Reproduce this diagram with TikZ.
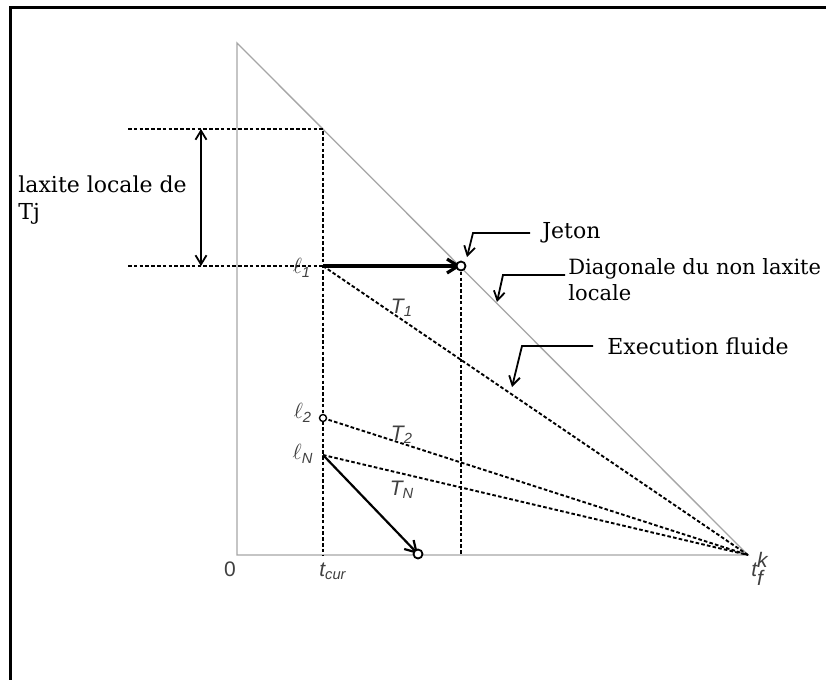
\documentclass[tikz,border=0pt]{standalone}
\usepackage{fontspec}
\setmainfont{DejaVu Serif}
\setsansfont{Liberation Sans}
\usetikzlibrary{arrows.meta}
\begin{document}
\begin{tikzpicture}[x=0.5pt,y=-0.5pt,
  axisline/.style={draw=gray!70, line width=0.65pt},
  dsh/.style={draw=black, line width=0.95pt, dash pattern=on 1.8pt off 1.1pt},
  callout/.style={draw=black, line width=0.9pt, -{Straight Barb[length=4.5pt,width=5.5pt]}},
  lbl/.style={font=\fontsize{11}{12.5}\selectfont, inner sep=0pt, text=black},
  sym/.style={font=\sffamily\itshape\fontsize{10.5}{12}\selectfont, inner sep=0pt, text=black!75},
  dotc/.style={circle, draw=black, line width=0.9pt, fill=white, minimum size=4.5pt, inner sep=0pt}
]
\useasboundingbox (0,0) rectangle (826,680);
\fill[white] (0,0) rectangle (826,680);
\draw[line width=1.5pt] (10,680) -- (10,7) -- (826,7);

% key points
\coordinate (Top) at (237,43);
\coordinate (O) at (237,555);
\coordinate (F) at (748,555);
\coordinate (A) at (323,129);
\coordinate (L1) at (323,266);
\coordinate (C) at (323,555);
\coordinate (J) at (461,266);
\coordinate (Jb) at (461,555);
\coordinate (L2) at (323,418);
\coordinate (LN) at (323,455);
\coordinate (E) at (418,554);
\coordinate (H1) at (128,129);
\coordinate (H2) at (128,266);
\coordinate (V1) at (201,129);
\coordinate (V2) at (201,266);

% axes and diagonal
\draw[axisline] (Top) -- (O) -- (F) -- cycle;

% dashed lines
\draw[dsh] (H1) -- (A) -- (C);
\draw[dsh] (H2) -- (L1);
\draw[dsh] (J) -- (Jb);
\draw[dsh] (L1) -- (F);
\draw[dsh] (L2) -- (F);
\draw[dsh] (LN) -- (F);

% laxity double arrow
\draw[line width=0.9pt, {Straight Barb[length=4.5pt,width=5.5pt]}-{Straight Barb[length=4.5pt,width=5.5pt]}] (V1) -- (V2);

% arrows
\draw[line width=1.6pt, -{Straight Barb[length=5.5pt,width=7pt]}] (L1) -- (J);
\node[dotc] (jdot) at (J) {};
\draw[line width=1.1pt, -{Straight Barb[length=5.5pt,width=6.5pt]}] (LN) -- (E);
\node[dotc] (edot) at (E) {};
\node[dotc, minimum size=3.5pt, line width=0.7pt] (l2dot) at (L2) {};

% texts
\node[lbl, anchor=west, align=left] (lax) at (18,200) {laxite locale de\\[0.6pt]Tj};
\node[lbl, anchor=west] (jeton) at (542,233) {Jeton};
\node[lbl, font=\fontsize{10.5}{12.5}\selectfont, anchor=west, align=left] (diag) at (568,280) {Diagonale du non laxite\\[0.6pt]locale};
\node[lbl, anchor=west] (exec) at (607,346) {Execution fluide};

% callouts
\coordinate (jk) at (473,233);
\coordinate (jt) at (467,257);
\draw[callout] ([xshift=-6pt]jeton.west) -- (jk) -- (jt);
\coordinate (dk) at (503,275);
\coordinate (dt) at (497,302);
\draw[callout] ([xshift=-1.5pt,yshift=2.5pt]diag.west) -- (dk) -- (dt);
\coordinate (ek) at (522,346);
\coordinate (et) at (512,387);
\draw[callout] ([xshift=-7pt]exec.west) -- (ek) -- (et);

% symbol labels
\node[sym] (l1) at (302,268) {$\ell$\textsubscript{1}};
\node[sym] (l2) at (303,413) {$\ell$\textsubscript{2}};
\node[sym] (lN) at (303,454) {$\ell$\textsubscript{N}};
\node[sym] (T1) at (402,308) {T\textsubscript{1}};
\node[sym] (T2) at (402,435) {T\textsubscript{2}};
\node[sym] (TN) at (402,490) {T\textsubscript{N}};
\node[sym, font=\sffamily\fontsize{10.5}{12}\selectfont] (zero) at (230,569) {0};
\node[sym] (tcur) at (333,571) {t\textsubscript{cur}};
\node[sym] (tfk) at (760,569) {$\textit{t}^{\textit{k}}_{\textit{f}}$};
\end{tikzpicture}
\end{document}
